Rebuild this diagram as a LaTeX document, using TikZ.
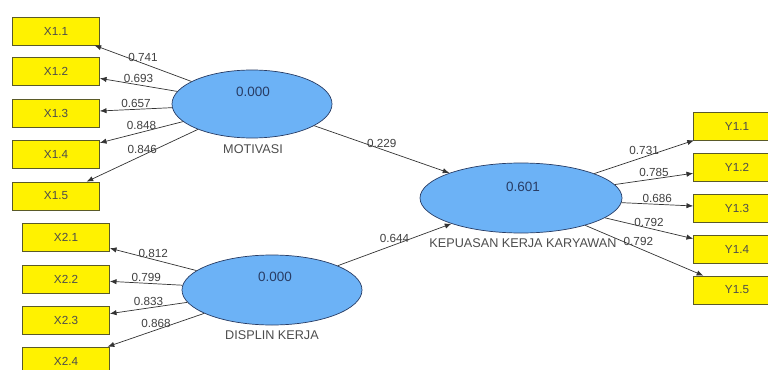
\documentclass[tikz,border=0pt]{standalone}
\usepackage{fontspec}
\setmainfont{Liberation Sans}
\usetikzlibrary{shapes.geometric,arrows.meta}

\definecolor{lvblue}{RGB}{108,178,246}
\definecolor{lvline}{RGB}{40,60,100}
\definecolor{mvline}{RGB}{90,90,40}

\tikzset{
	mvbox/.style={draw=mvline, fill=yellow, line width=0.6pt, minimum width=2.61cm, minimum height=0.84cm, inner sep=0pt, font=\fontsize{10}{11}\selectfont, text=black!70},
	lvell/.style={ellipse, draw=lvline, fill=lvblue, line width=0.6pt, inner sep=0pt},
	lvval/.style={font=\fontsize{11.5}{12}\selectfont, text=lvline},
	lvname/.style={font=\fontsize{10.8}{11}\selectfont, text=black!70},
	path/.style={-{Latex[length=2mm,width=1.6mm]}, black!80, line width=0.6pt},
	coef/.style={font=\fontsize{10}{11}\selectfont, text=black!75, inner sep=1.5pt}
}

\begin{document}
\begin{tikzpicture}[x=0.03cm, y=-0.03cm]

				\useasboundingbox (0, 0) rectangle (768, 369);

				% indicators of MOTIVASI
				\node [mvbox] (x11) at (56, 31) {X1.1};
				\node [mvbox] (x12) at (56, 71) {X1.2};
				\node [mvbox] (x13) at (56, 113) {X1.3};
				\node [mvbox] (x14) at (56, 154) {X1.4};
				\node [mvbox] (x15) at (56, 196) {X1.5};

				% indicators of DISPLIN KERJA
				\node [mvbox] (x21) at (66, 237) {X2.1};
				\node [mvbox] (x22) at (66, 279) {X2.2};
				\node [mvbox] (x23) at (66, 320) {X2.3};
				\node [mvbox] (x24) at (66, 361) {X2.4};

				% indicators of KEPUASAN KERJA KARYAWAN
				\node [mvbox] (y11) at (737, 126) {Y1.1};
				\node [mvbox] (y12) at (737, 167) {Y1.2};
				\node [mvbox] (y13) at (737, 208) {Y1.3};
				\node [mvbox] (y14) at (737, 249) {Y1.4};
				\node [mvbox] (y15) at (737, 290) {Y1.5};

				%------
				\node [lvell, minimum width=4.8cm, minimum height=2.04cm] (mot) at (252, 104) {};
				\node [lvell, minimum width=5.4cm, minimum height=2.1cm] (dis) at (272, 290) {};
				\node [lvell, minimum width=6.06cm, minimum height=2.1cm] (kep) at (521, 198) {};

				\node [lvval] (motval) at (253, 92) {0.000};
				\node [lvval] (disval) at (275, 277) {0.000};
				\node [lvval] (kepval) at (523, 187) {0.601};

				\node [lvname] (motname) at (253, 149) {MOTIVASI};
				\node [lvname] (disname) at (272, 335) {DISPLIN KERJA};
				\node [lvname] (kepname) at (523, 243) {KEPUASAN KERJA KARYAWAN};

				%------
				\draw [path] (mot) -- (x11) node [coef, midway, above] (c11) {0.741};
				\draw [path] (mot) -- (x12) node [coef, midway, above] (c12) {0.693};
				\draw [path] (mot) -- (x13) node [coef, midway, above] (c13) {0.657};
				\draw [path] (mot) -- (x14) node [coef, midway, above] (c14) {0.848};
				\draw [path] (mot) -- (x15) node [coef, midway, above] (c15) {0.846};

				\draw [path] (dis) -- (x21) node [coef, midway, above] (c21) {0.812};
				\draw [path] (dis) -- (x22) node [coef, midway, above] (c22) {0.799};
				\draw [path] (dis) -- (x23) node [coef, midway, above] (c23) {0.833};
				\draw [path] (dis) -- (x24) node [coef, midway, above] (c24) {0.868};

				\draw [path] (kep) -- (y11) node [coef, midway, above] (d11) {0.731};
				\draw [path] (kep) -- (y12) node [coef, midway, above] (d12) {0.785};
				\draw [path] (kep) -- (y13) node [coef, midway, above] (d13) {0.686};
				\draw [path] (kep) -- (y14) node [coef, midway, above] (d14) {0.792};
				\draw [path] (kep) -- (y15) node [coef, pos=0.45, above] (d15) {0.792};

				\draw [path] (mot) -- (kep) node [coef, midway, above] (pmot) {0.229};
				\draw [path] (dis) -- (kep) node [coef, midway, above] (pdis) {0.644};
		\end{tikzpicture}
\end{document}
